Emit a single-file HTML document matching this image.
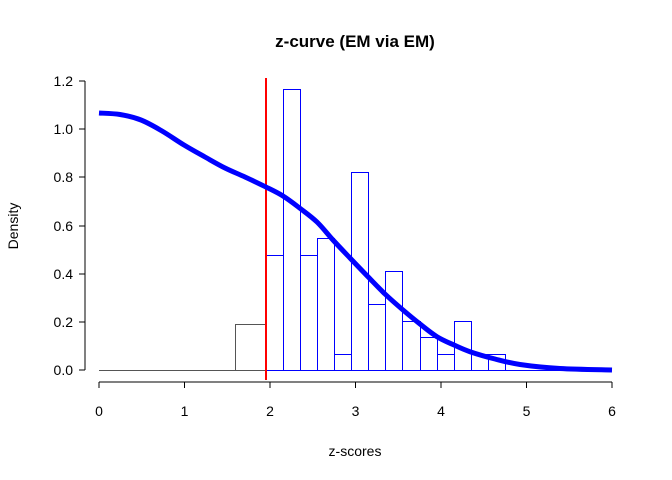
<!DOCTYPE html>
<html><head><style>body{margin:0;background:#fff}svg{display:block}text{font-family:"Liberation Sans",Arial,sans-serif;fill:#000}</style></head>
<body>
<svg width="672" height="480" viewBox="0 0 672 480">
<text x="355" y="47" font-size="17" font-weight="bold" text-anchor="middle">z-curve (EM via EM)</text>
<g stroke="#000" stroke-width="1">
<line x1="85" y1="81" x2="85" y2="370"/>
<line x1="79" y1="370" x2="85" y2="370"/><line x1="79" y1="322" x2="85" y2="322"/><line x1="79" y1="274" x2="85" y2="274"/><line x1="79" y1="226" x2="85" y2="226"/><line x1="79" y1="177" x2="85" y2="177"/><line x1="79" y1="129" x2="85" y2="129"/><line x1="79" y1="81" x2="85" y2="81"/>
<line x1="99" y1="382" x2="612" y2="382"/>
<line x1="99" y1="382" x2="99" y2="388"/><line x1="184.5" y1="382" x2="184.5" y2="388"/><line x1="270" y1="382" x2="270" y2="388"/><line x1="355.5" y1="382" x2="355.5" y2="388"/><line x1="441" y1="382" x2="441" y2="388"/><line x1="526.5" y1="382" x2="526.5" y2="388"/><line x1="612" y1="382" x2="612" y2="388"/>
</g>
<g font-size="14" text-anchor="end">
<text x="73" y="375">0.0</text><text x="73" y="327">0.2</text><text x="73" y="279">0.4</text><text x="73" y="231">0.6</text><text x="73" y="182">0.8</text><text x="73" y="134">1.0</text><text x="73" y="86">1.2</text>
</g>
<g font-size="14" text-anchor="middle">
<text x="99" y="416">0</text><text x="184.5" y="416">1</text><text x="270" y="416">2</text><text x="355.5" y="416">3</text><text x="441" y="416">4</text><text x="526.5" y="416">5</text><text x="612" y="416">6</text>
</g>
<text x="355" y="456" font-size="14" text-anchor="middle">z-scores</text>
<text transform="translate(18,226) rotate(-90)" font-size="14" text-anchor="middle">Density</text>
<g fill="none" stroke="#555" stroke-width="1">
<line x1="99" y1="370.5" x2="265" y2="370.5"/>
<rect x="235.5" y="324.5" width="30" height="46"/>
</g>
<g fill="none" stroke="#00f" stroke-width="1">
<line x1="265" y1="370.5" x2="612" y2="370.5"/>
<rect x="265.5" y="255.5" width="18" height="115"/>
<rect x="283.5" y="89.5" width="17" height="281"/>
<rect x="300.5" y="255.5" width="17" height="115"/>
<rect x="317.5" y="238.5" width="17" height="132"/>
<rect x="334.5" y="354.5" width="17" height="16"/>
<rect x="351.5" y="172.5" width="17" height="198"/>
<rect x="368.5" y="304.5" width="17" height="66"/>
<rect x="385.5" y="271.5" width="17" height="99"/>
<rect x="402.5" y="321.5" width="18" height="49"/>
<rect x="420.5" y="337.5" width="17" height="33"/>
<rect x="437.5" y="354.5" width="17" height="16"/>
<rect x="454.5" y="321.5" width="17" height="49"/>
<rect x="471.5" y="354.5" width="17" height="16"/>
<rect x="488.5" y="354.5" width="17" height="16"/>
</g>
<line x1="266" y1="78" x2="266" y2="380" stroke="#f00" stroke-width="2"/>
<path id="c" d="M99,113 L612,370" fill="none" stroke="#00f" stroke-width="5"/>
</svg>
<script>
var p=[[99,113],[120,114.5],[141,119],[162,128],[184,140],[200,149],[220,158],[245,169],[265.3,186.7],[300,208.3],[333,240],[368,276.7],[403,310],[437,336.7],[470,351.7],[520,365],[560,369],[612,370]];
// note: adjust early points toward reference smooth shape
p=[[99,113],[120,114.5],[141,120],[162,131],[184,145],[205,157],[225,168],[245,177],[265.3,186.7],[283,196],[300,208.3],[317,222],[333,240],[350,258],[368,276.7],[385,294],[403,310],[420,324],[437,336.7],[454,345],[470,351.7],[495,359],[520,364.5],[560,368.5],[612,370]];
var d="M"+p[0];
for(var i=0;i<p.length-1;i++){var a=p[Math.max(i-1,0)],b=p[i],c=p[i+1],e=p[Math.min(i+2,p.length-1)];
d+=" C"+(b[0]+(c[0]-a[0])/6)+","+(b[1]+(c[1]-a[1])/6)+" "+(c[0]-(e[0]-b[0])/6)+","+(c[1]-(e[1]-b[1])/6)+" "+c[0]+","+c[1];}
document.getElementById("c").setAttribute("d",d);
</script>
</body></html>
